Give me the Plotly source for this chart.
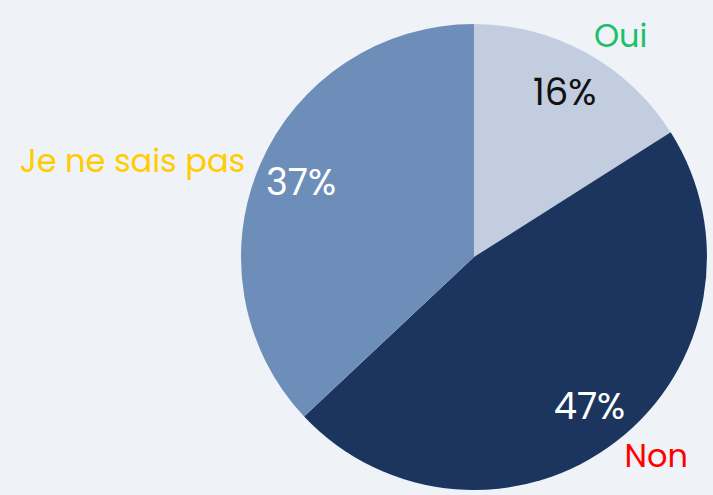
import plotly.graph_objects as go

labels = ["Oui", "Non", "Je ne sais pas"]
values = [16, 47, 37]
slice_colors = ["#c3cde0", "#1b355f", "#6e8eba"]
pct_colors = ["#111111", "#ffffff", "#ffffff"]
label_colors = ["#1dbf6a", "#ff0000", "#ffcc00"]

FONT = "Poppins, Open Sans, sans-serif"
dom = dict(x=[0.3345, 0.995], y=[0, 1])

fig = go.Figure()

# coloured slices
fig.add_trace(go.Pie(
    labels=labels, values=values, sort=False, direction="clockwise", rotation=0,
    marker=dict(colors=slice_colors, line=dict(width=0)),
    textinfo="none",
    hoverinfo="skip", showlegend=False, domain=dom,
))

# transparent ring on top so the percentages sit near the rim
fig.add_trace(go.Pie(
    labels=labels, values=values, sort=False, direction="clockwise", rotation=0,
    hole=0.617,
    marker=dict(colors=["rgba(0,0,0,0)"] * 3, line=dict(width=0)),
    textinfo="percent", textposition="inside", insidetextorientation="horizontal",
    insidetextfont=dict(family=FONT, size=37, color=pct_colors),
    hoverinfo="skip", showlegend=False, domain=dom,
))

# transparent copy that only carries the outside category labels
fig.add_trace(go.Pie(
    labels=labels, values=values, sort=False, direction="clockwise", rotation=0,
    marker=dict(colors=["rgba(0,0,0,0)"] * 3, line=dict(width=0)),
    textinfo="label", textposition="outside",
    outsidetextfont=dict(family=FONT, size=32, color=label_colors),
    hoverinfo="skip", showlegend=False,
    domain=dict(x=[0.3295, 0.99], y=[0, 1]),
))

fig.update_layout(
    width=713, height=495,
    margin=dict(l=0, r=0, t=24, b=0),
    paper_bgcolor="#eff3f7",
    plot_bgcolor="#eff3f7",
    font=dict(family=FONT),
)

fig.write_html(
    "out.html", config={"displayModeBar": False},
    post_script="document.body.style.margin='0';document.body.style.overflow='hidden';"
                "document.documentElement.style.overflow='hidden';",
)
